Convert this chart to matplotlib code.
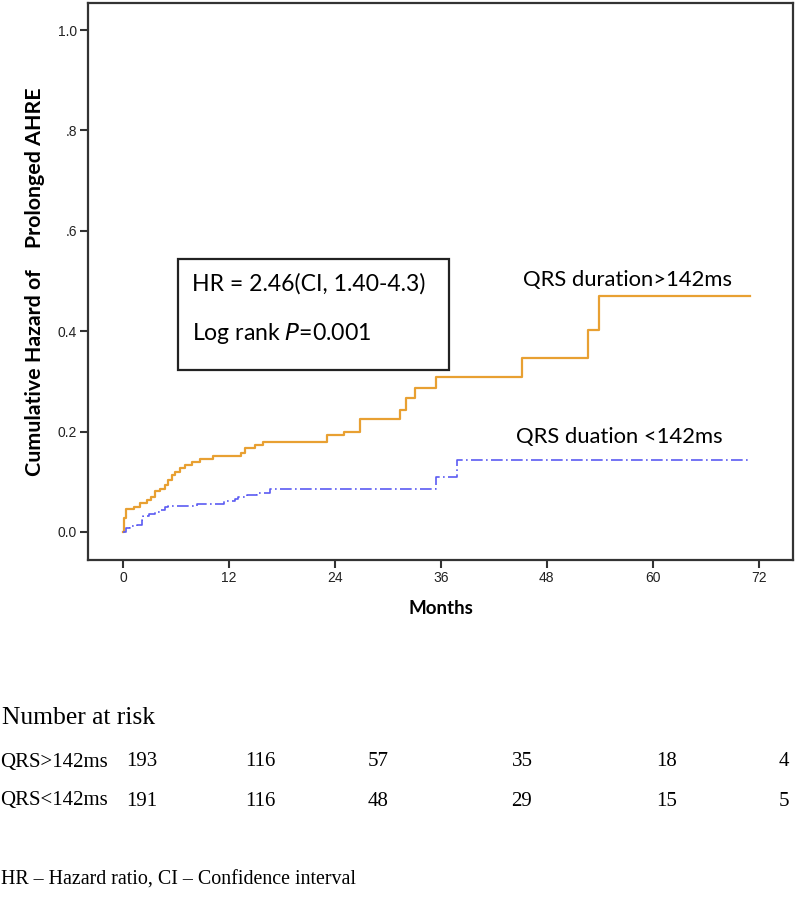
import matplotlib
matplotlib.use("Agg")
import matplotlib.pyplot as plt
from matplotlib.patches import Rectangle

# ---- data ----
t_long = [0, 0.1, 0.3, 1.2, 1.9, 2.7, 3.2, 3.6, 4.2, 4.8, 5.1, 5.5, 5.9, 6.5, 7.0, 7.8, 8.7,
          10.2, 13.4, 13.8, 15.0, 15.9, 23.1, 25.0, 26.9, 31.4, 32.1, 33.1, 35.5, 45.2,
          52.7, 53.9, 71.0]
h_long = [0, 0.027, 0.045, 0.049, 0.058, 0.064, 0.070, 0.082, 0.085, 0.094, 0.103, 0.113,
          0.120, 0.127, 0.133, 0.140, 0.145, 0.151, 0.157, 0.167, 0.173, 0.180, 0.193, 0.200,
          0.226, 0.243, 0.266, 0.286, 0.309, 0.346, 0.402, 0.470, 0.470]

t_short = [0, 0.3, 0.8, 1.6, 2.1, 2.3, 2.9, 3.6, 4.2, 4.8, 5.1, 8.4, 11.4, 12.7, 13.0, 14.0,
           15.2, 16.7, 35.5, 37.8, 71.1]
h_short = [0, 0.007, 0.011, 0.014, 0.024, 0.032, 0.036, 0.040, 0.044, 0.049, 0.052, 0.056,
           0.062, 0.065, 0.069, 0.074, 0.077, 0.085, 0.110, 0.143, 0.143]

x_ticks = [0, 12, 24, 36, 48, 60, 72]
y_ticks = [0.0, 0.2, 0.4, 0.6, 0.8, 1.0]
y_tick_labels = ["0.0", "0.2", "0.4", ".6", ".8", "1.0"]

risk_groups = ["QRS>142ms", "QRS<142ms"]
risk_long = [193, 116, 57, 35, 18, 4]
risk_short = [191, 116, 48, 29, 15, 5]

label_long = "QRS duration>142ms"
label_short = "QRS duation <142ms"
hr_text = "HR = 2.46(CI, 1.40-4.3)"
footnote = "HR \u2013 Hazard ratio, CI \u2013 Confidence interval"

# ---- figure ----
W, H = 797, 900
fig = plt.figure(figsize=(W / 100, H / 100), dpi=100)
fig.patch.set_facecolor("white")

def fx(px):
    return px / W

def fy(py):
    return 1 - py / H

ax = fig.add_axes([fx(88), fy(560), fx(793) - fx(88), fy(3) - fy(560)])
ax.step(t_long, h_long, where="post", color="#E8A032", lw=1.6)
ax.step(t_short, h_short, where="post", color="#5B5BF2", lw=1.2, linestyle=(0, (7, 2, 1, 2)))

ax.set_xlim(-3.97, 75.9)
ax.set_ylim(-0.0558, 1.054)
ax.set_xticks(x_ticks)
ax.set_xticklabels([str(v) for v in x_ticks], fontsize=10, family="Liberation Sans", color="#222222")
ax.set_yticks(y_ticks)
ax.set_yticklabels(y_tick_labels, fontsize=10, family="Liberation Sans", color="#222222")
ax.tick_params(direction="out", length=6, width=1.5, color="#333333", pad=2)
for s in ax.spines.values():
    s.set_linewidth(1.6)
    s.set_color("#333333")

ax.set_xlabel("Months", fontsize=13.5, fontweight="bold", family="Lato", labelpad=11)
ax.set_ylabel("Cumulative Hazard of    Prolonged AHRE", fontsize=15.4, fontweight="bold",
              family="Lato", labelpad=9)

# annotation box
box = Rectangle((fx(178), fy(370)), fx(449) - fx(178), fy(259) - fy(370),
                transform=fig.transFigure, fill=False, edgecolor="#222222", lw=1.6)
fig.patches.append(box)
fig.text(fx(192), fy(284), hr_text, fontsize=16.6, family="Lato", va="center", ha="left")
fig.text(fx(192), fy(333), "Log rank $\\it{P}$=0.001", fontsize=16.6, family="Lato",
         va="center", ha="left")

ax.text(57.1, 0.503, label_long, fontsize=15.8, family="Lato", ha="center", va="center")
ax.text(56.2, 0.189, label_short, fontsize=15.8, family="Lato", ha="center", va="center")

# number at risk
serif = "Liberation Serif"
fig.text(fx(2), fy(718), "Number at risk", fontsize=18.4, family=serif, va="center", ha="left")
row_y = [762, 801]
col_x = [142, 260, 378, 522, 667, 784]
for gi, (name, vals) in enumerate(zip(risk_groups, [risk_long, risk_short])):
    fig.text(fx(0), fy(row_y[gi]), name, fontsize=15, family=serif, va="center", ha="left")
    for cx, v in zip(col_x, vals):
        fig.text(fx(cx), fy(row_y[gi]), str(v), fontsize=15, family=serif, va="center", ha="center")

fig.text(fx(1), fy(880), footnote, fontsize=14.4, family=serif, va="center", ha="left")

fig.savefig("out.png", dpi=100, facecolor="white")
